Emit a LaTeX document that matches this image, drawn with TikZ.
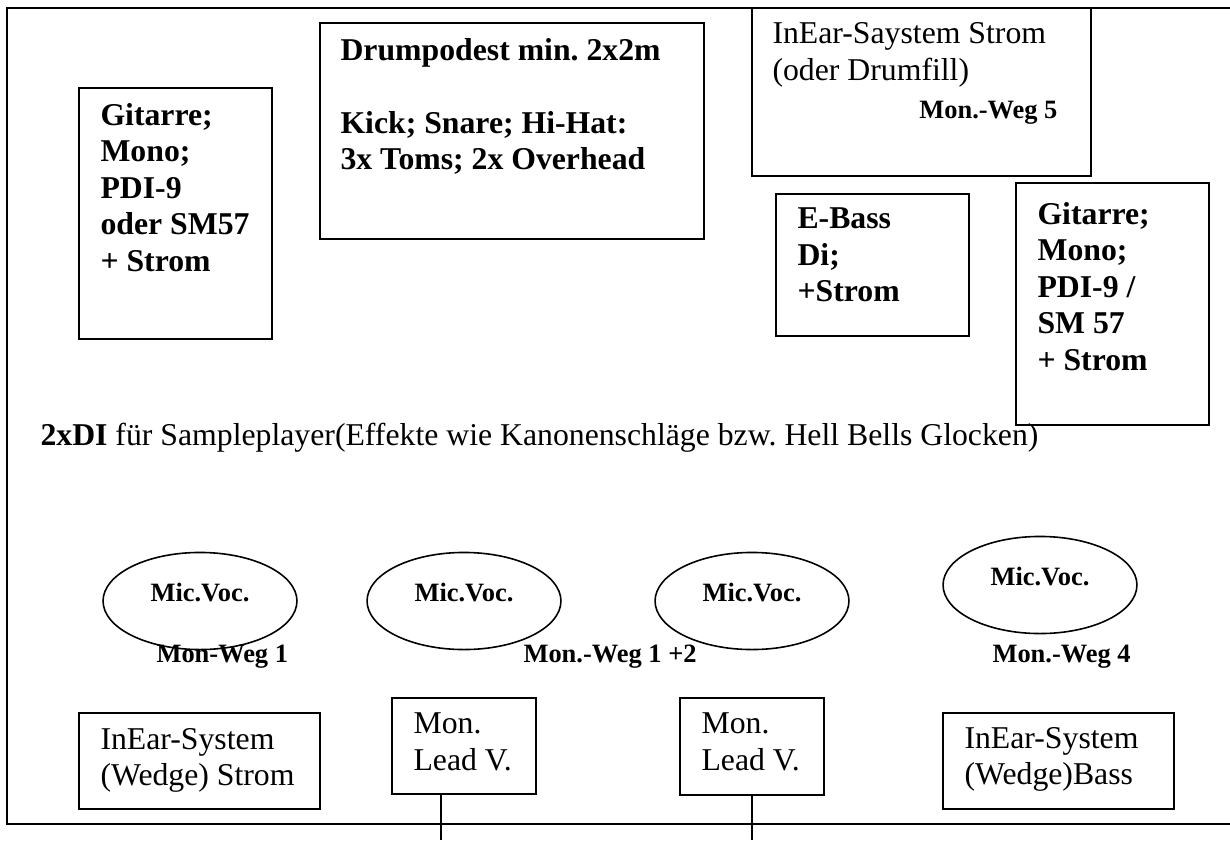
\documentclass[tikz,border=0pt]{standalone}
\usepackage{fontspec}
\setmainfont{Liberation Serif}
\frenchspacing
\usetikzlibrary{fit, shapes.geometric}

\begin{document}
\begin{tikzpicture}[
    x = 0.378pt, y = -0.378pt,
    frame/.style = {line width=0.7pt},
    box/.style = {rectangle, draw, line width=0.6pt, inner sep=0pt},
    mic/.style = {ellipse, draw, line width=0.6pt, inner sep=0pt, minimum width=73.3pt, minimum height=36.7pt,
                  font=\fontsize{10}{12}\selectfont\bfseries, text height=7pt, text depth=7pt},
    % Textblock: Koordinate = Grundlinie der ersten Zeile
    boxtxt/.style = {inner sep=0pt, align=left, anchor=north west, yshift=9.66pt, execute at begin node=\strut},
    boldtxt/.style = {boxtxt, font=\fontsize{12}{13.8}\selectfont\bfseries},
    plaintxt/.style = {boxtxt, font=\fontsize{12}{13.8}\selectfont},
    weglabel/.style = {inner sep=0pt, anchor=base west, font=\fontsize{10}{12}\selectfont\bfseries},
]
    \useasboundingbox (0,0) rectangle (1230,840);
    % Buehnenrahmen
    \draw[frame] (1230,8) -- (7,8) -- (7,824) -- (1230,824);

    % obere Reihe
    \node[box, fit={(79,88) (272,339)}] (gitL) {};
    \node[boldtxt] (gitLtxt) at (100,128) {Gitarre;\\ Mono;\\ PDI-9\\ oder SM57\\ + Strom};
    \node[box, fit={(320,23) (704,239)}] (drums) {};
    \node[boldtxt] (drumstxt) at (340,63) {Drumpodest min. 2x2m\\[13.8pt] Kick; Snare; Hi-Hat:\\ 3x Toms; 2x Overhead};
    \node[box, fit={(752,8) (1091,176)}] (inear5) {};
    \node[plaintxt] (inear5txt) at (772,48) {InEar-Saystem Strom\\ (oder Drumfill)};
    \node[weglabel, anchor=base east] (weg5) at (1058,118) {Mon.-Weg 5};
    \node[box, fit={(776,194) (969,336)}] (bass) {};
    \node[boldtxt] (basstxt) at (797,233) {E-Bass\\ Di;\\ +Strom};
    \node[box, fit={(1016,183) (1209,425)}] (gitR) {};
    \node[boldtxt] (gitRtxt) at (1037,227) {Gitarre;\\ Mono;\\ PDI-9 /\\ SM 57\\ + Strom};

    \node[plaintxt] (sampler) at (40,445) {\textbf{2xDI} für Sampleplayer(Effekte wie Kanonenschläge bzw. Hell Bells Glocken)};

    % Gesangsmikros
    \foreach \x/\y [count=\i] in {200/601, 464/601, 752/601, 1040/585}
        \node[mic] (mic\i) at (\x,\y) {Mic.Voc.};
    \node[weglabel] (weg1) at (156,662) {Mon-Weg 1};
    \node[weglabel] (weg12) at (523,662) {Mon.-Weg 1 +2};
    \node[weglabel] (weg4) at (992,662) {Mon.-Weg 4};

    % Monitore
    \node[box, fit={(79,713) (320,809)}] (inear1) {};
    \node[plaintxt] (inear1txt) at (100,753) {InEar-System\\ (Wedge) Strom};
    \node[box, fit={(392,698) (536,794)}] (mon1) {};
    \node[plaintxt] (mon1txt) at (413,738) {Mon.\\ Lead V.};
    \node[box, fit={(680,698) (824,795)}] (mon2) {};
    \node[plaintxt] (mon2txt) at (701,738) {Mon.\\ Lead V.};
    \node[box, fit={(943,713) (1174,809)}] (inear4) {};
    \node[plaintxt] (inear4txt) at (964,752) {InEar-System\\ (Wedge)Bass};

    \coordinate (cab1) at (441,840);
    \coordinate (cab2) at (752,840);
    \draw[line width=0.6pt] (mon1.south -| cab1) -- (cab1);
    \draw[line width=0.6pt] (mon2.south -| cab2) -- (cab2);
\end{tikzpicture}
\end{document}
